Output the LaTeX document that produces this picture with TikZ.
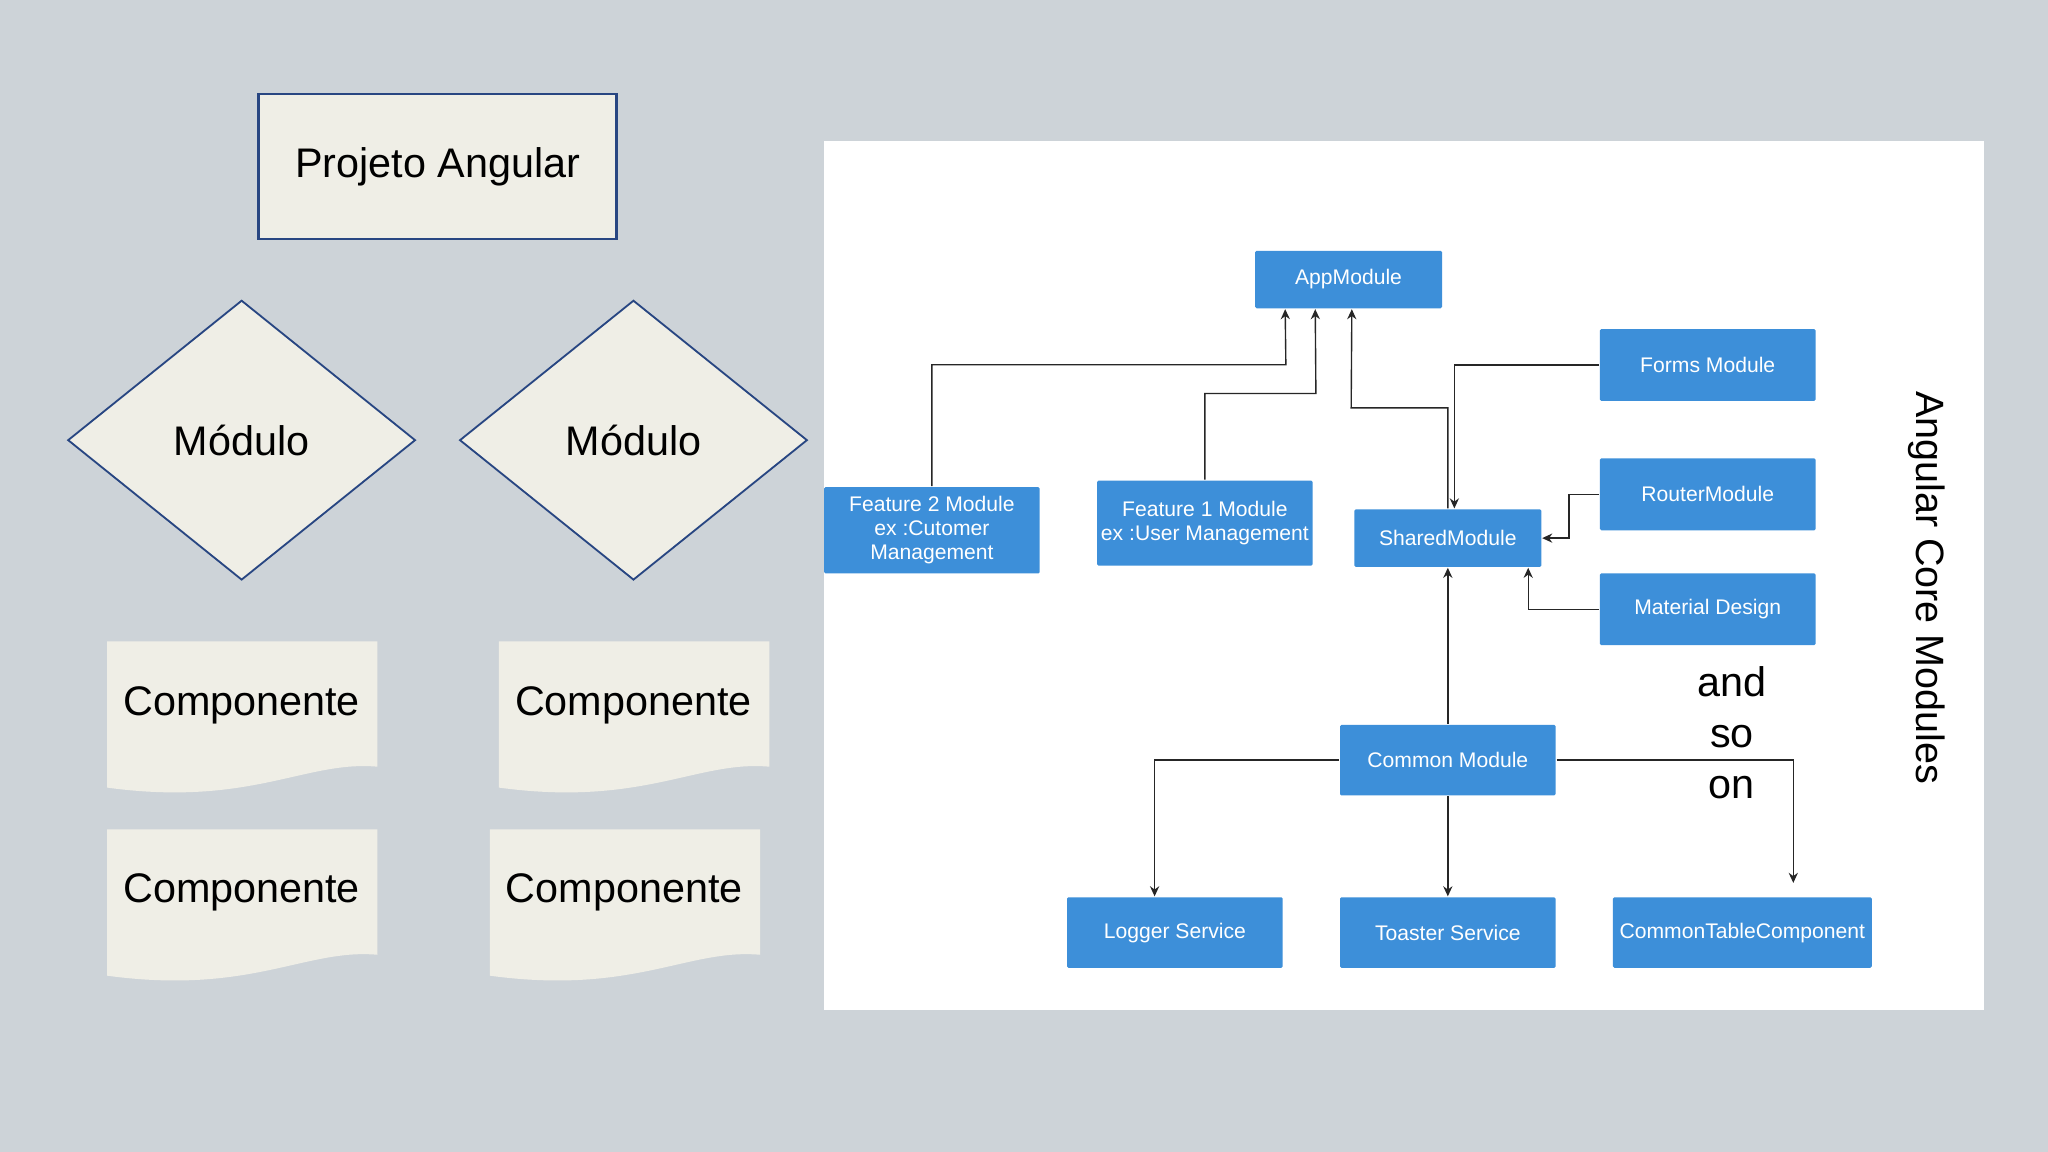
\documentclass[tikz,border=0pt]{standalone}
\usepackage{fontspec}
\setmainfont{Liberation Sans}
\usetikzlibrary{shapes.geometric,arrows.meta}
\definecolor{bgray}{RGB}{205,211,216}
\definecolor{paper}{RGB}{239,238,230}
\definecolor{navy}{RGB}{40,70,130}
\definecolor{mblue}{RGB}{61,143,217}
\tikzset{
  blk/.style={fill=mblue,text=white,font=\fontsize{4.6}{5.2}\selectfont,align=center,inner sep=0pt,rounded corners=0.3pt},
  lnk/.style={draw=black!85,line width=0.3pt},
  arr/.style={lnk,-{Stealth[length=2.2pt,width=2pt]}},
  big/.style={font=\fontsize{9}{10}\selectfont}
}
\newcommand{\docshape}[4]{% x1,y1,x2,y2
  \fill[paper] (#1,#2) -- (#3,#2) -- (#3,#4-21)
    .. controls (#3-55,#4-26) and (#1+110,#4+10) .. (#1,#4-5) -- cycle;}
\begin{document}
\begin{tikzpicture}[x=0.01cm,y=-0.01cm]
\fill[bgray] (0,0) rectangle (1568,882);
\useasboundingbox (0,0) rectangle (1568,882);

% left side
\node[draw=navy,fill=paper,line width=0.5pt,minimum width=2.74cm,minimum height=1.11cm,big] (proj) at (335,127.5) {Projeto Angular};
\node[diamond,draw=navy,fill=paper,line width=0.4pt,minimum width=2.66cm,minimum height=2.14cm,inner sep=0pt,big] (mod1) at (185,337) {Módulo};
\node[diamond,draw=navy,fill=paper,line width=0.4pt,minimum width=2.66cm,minimum height=2.14cm,inner sep=0pt,big] (mod2) at (485,337) {Módulo};
\docshape{82}{491}{289}{608}
\docshape{382}{491}{589}{608}
\docshape{82}{635}{289}{752}
\docshape{375}{635}{582}{752}
\node[big] (c1) at (185,540) {Componente};
\node[big] (c2) at (485,540) {Componente};
\node[big] (c3) at (185,683) {Componente};
\node[big] (c4) at (478,683) {Componente};

% right panel
\fill[white] (631,108) rectangle (1519,773);
\node[blk,minimum width=1.43cm,minimum height=0.44cm] (app) at (1032.5,214) {AppModule};
\node[blk,minimum width=1.65cm,minimum height=0.55cm] (forms) at (1307.5,279.5) {Forms Module};
\node[blk,minimum width=1.65cm,minimum height=0.55cm] (router) at (1307.5,378.5) {RouterModule};
\node[blk,minimum width=1.65cm,minimum height=0.55cm] (mat) at (1307.5,466.5) {Material Design};
\node[blk,minimum width=1.43cm,minimum height=0.44cm] (shared) at (1108.5,412) {SharedModule};
\node[blk,minimum width=1.65cm,minimum height=0.66cm] (feat2) at (713.5,406) {Feature 2 Module\\ex :Cutomer\\Management};
\node[blk,minimum width=1.65cm,minimum height=0.65cm] (feat1) at (922.5,400.5) {Feature 1 Module\\ex :User Management};
\node[blk,minimum width=1.65cm,minimum height=0.54cm] (common) at (1108.5,582) {Common Module};
\node[blk,minimum width=1.65cm,minimum height=0.54cm] (logger) at (899.5,714) {Logger Service};
\node[blk,minimum width=1.65cm,minimum height=0.54cm] (toaster) at (1108.5,714) {Toaster Service};
\node[blk,minimum width=1.98cm,minimum height=0.54cm] (table) at (1334,714) {CommonTableComponent};
\coordinate (tabtop) at (1373,676);

\draw[arr] (feat2.north) |- ++(271,-93) -- ([xshift=-0.485cm]app.south);
\draw[arr] (feat1.north) |- ++(85,-66) -- ([xshift=-0.255cm]app.south);
\draw[arr] (shared.north) |- ++(-74,-77) -- ([xshift=0.025cm]app.south);
\draw[arr] (forms.west) -| ([xshift=0.05cm]shared.north);
\draw[arr] (router.west) -- ++(-23,0) |- (shared.east);
\draw[arr] (mat.west) -| ([xshift=0.615cm]shared.south);
\draw[arr] (common.north) -- (shared.south);
\draw[arr] (common.west) -| ([xshift=-0.155cm]logger.north);
\draw[arr] (common.south) -- (toaster.north);
\draw[arr] (common.east) -| (tabtop);

\node[align=center,font=\fontsize{9}{11.2}\selectfont] (etc) at (1326,561) {and\\so\\on};
\node[rotate=-90,font=\fontsize{8.6}{10}\selectfont] (title) at (1475,450) {Angular Core Modules};
\end{tikzpicture}
\end{document}
